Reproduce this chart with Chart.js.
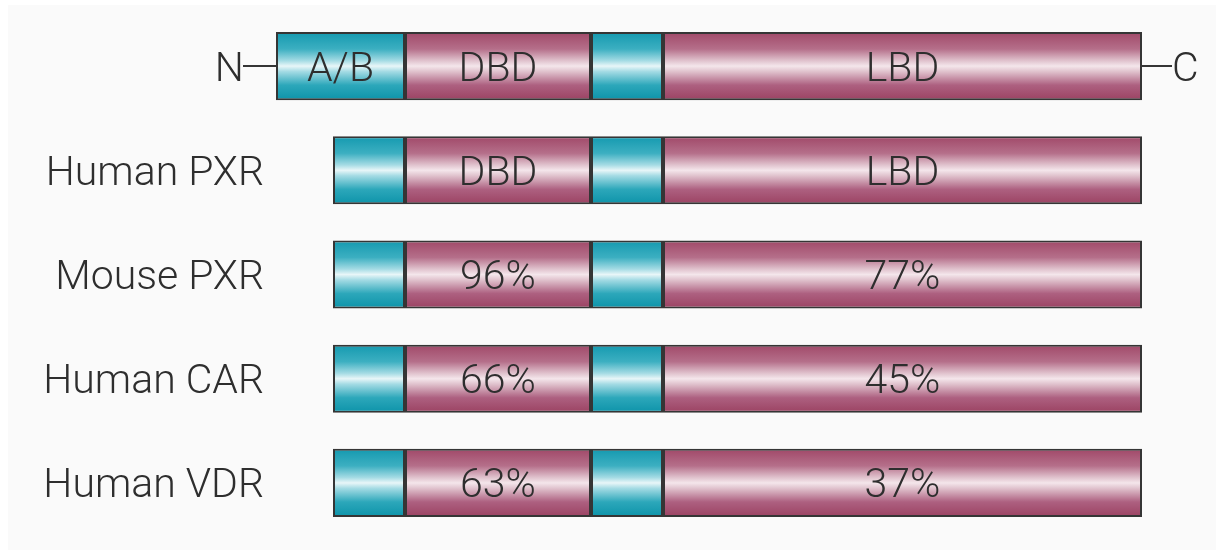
<!DOCTYPE html>
<html>
<head>
<meta charset="utf-8">
<script src="https://cdn.jsdelivr.net/npm/chart.js@4"></script>
<style>
  html, body { margin: 0; padding: 0; background: #ffffff; }
  #wrap { width: 1216px; height: 550px; position: relative; }
</style>
</head>
<body>
<div id="wrap"><canvas id="c"></canvas></div>
<script>
// ---- data (positions along the protein, in drawing units) ----
const rows       = ['', 'Human PXR', 'Mouse PXR', 'Human CAR', 'Human VDR'];
const abStart    = [276, 333, 333, 333, 333];
const dbdStart   = [405, 405, 405, 405, 405];
const hingeStart = [591, 591, 591, 591, 591];
const lbdStart   = [663, 663, 663, 663, 663];
const lbdEnd     = [1142, 1142, 1142, 1142, 1142];
const abLabels   = ['A/B', '', '', '', ''];
const dbdLabels  = ['DBD', 'DBD', '96%', '66%', '63%'];
const lbdLabels  = ['LBD', 'LBD', '77%', '45%', '37%'];
const axisMax    = 1216;

const BAR_FRAC = 0.654;
const FONT_SIZE = 41;
const FONT = '300 ' + FONT_SIZE + 'px Roboto, "Liberation Sans", Arial, sans-serif';
const TEXT_COLOR = '#2e2e2e';

const tealStops = [[0, '#1499af'], [0.25, '#3cafc1'], [0.42, '#a4dbe4'], [0.5, '#e8f6f8'], [0.58, '#a4dbe4'], [0.78, '#2ca7ba'], [1, '#0d93a9']];
const maroonStops = [[0, '#a04868'], [0.25, '#b56f8a'], [0.42, '#e0c2cd'], [0.5, '#f4e6eb'], [0.58, '#e0c2cd'], [0.78, '#ad6080'], [1, '#9b4262']];

function gradient(stops) {
  return (ctx) => {
    const chart = ctx.chart;
    const y = chart.scales.y;
    if (!chart.chartArea || !y || ctx.dataIndex === undefined) return stops[3][1];
    const c = y.getPixelForValue(ctx.dataIndex);
    const h = (y.height / rows.length) * BAR_FRAC;
    const g = chart.ctx.createLinearGradient(0, c - h / 2, 0, c + h / 2);
    stops.forEach(s => g.addColorStop(s[0], s[1]));
    return g;
  };
}

function seg(a, b) { return a.map((v, i) => [v, b[i]]); }

function mkSet(label, data, stops) {
  return {
    label, data,
    backgroundColor: gradient(stops),
    borderColor: '#353535',
    borderWidth: 2,
    borderSkipped: false,
    grouped: false,
    barPercentage: BAR_FRAC,
    categoryPercentage: 1.0
  };
}

const bgPlugin = {
  id: 'bg',
  beforeDraw(chart) {
    const c = chart.ctx;
    c.save();
    c.fillStyle = '#ffffff';
    c.fillRect(0, 0, chart.width, chart.height);
    c.fillStyle = '#fafafa';
    c.fillRect(8, 5, chart.width - 8, chart.height - 5);
    c.restore();
  }
};

const textPlugin = {
  id: 'texts',
  afterDatasetsDraw(chart) {
    const c = chart.ctx;
    const x = chart.scales.x, y = chart.scales.y;
    const capOff = FONT_SIZE * 0.355;
    c.save();
    c.font = FONT;
    c.fillStyle = TEXT_COLOR;
    c.textBaseline = 'alphabetic';
    rows.forEach((name, i) => {
      const cy = y.getPixelForValue(i);
      const base = cy + capOff;
      if (name) {
        c.textAlign = 'right';
        c.fillText(name, 264, base);
      }
      c.textAlign = 'center';
      if (abLabels[i]) {
        c.fillText(abLabels[i], (x.getPixelForValue(abStart[i]) + x.getPixelForValue(dbdStart[i])) / 2, base);
      }
      c.fillText(dbdLabels[i], (x.getPixelForValue(dbdStart[i]) + x.getPixelForValue(hingeStart[i])) / 2, base);
      c.fillText(lbdLabels[i], (x.getPixelForValue(lbdStart[i]) + x.getPixelForValue(lbdEnd[i])) / 2, base);
    });
    // N and C termini on the first row
    const cy0 = y.getPixelForValue(0);
    const xs = x.getPixelForValue(abStart[0]);
    const xe = x.getPixelForValue(lbdEnd[0]);
    c.strokeStyle = '#353535';
    c.lineWidth = 2;
    c.beginPath();
    c.moveTo(xs - 33, cy0); c.lineTo(xs, cy0);
    c.moveTo(xe, cy0); c.lineTo(xe + 30, cy0);
    c.stroke();
    c.textAlign = 'right';
    c.fillText('N', xs - 32, cy0 + capOff);
    c.textAlign = 'left';
    c.fillText('C', xe + 30, cy0 + capOff);
    c.restore();
  }
};

function draw() {
  new Chart(document.getElementById('c'), {
    type: 'bar',
    data: {
      labels: rows,
      datasets: [
        mkSet('A/B', seg(abStart, dbdStart), tealStops),
        mkSet('DBD', seg(dbdStart, hingeStart), maroonStops),
        mkSet('Hinge', seg(hingeStart, lbdStart), tealStops),
        mkSet('LBD', seg(lbdStart, lbdEnd), maroonStops)
      ]
    },
    options: {
      indexAxis: 'y',
      responsive: true,
      maintainAspectRatio: false,
      animation: false,
      layout: { padding: { top: 14, bottom: 15, left: 0, right: 0 } },
      scales: {
        x: { display: false, min: 0, max: axisMax },
        y: { display: false }
      },
      plugins: {
        legend: { display: false },
        tooltip: { enabled: false }
      }
    },
    plugins: [bgPlugin, textPlugin]
  });
}
if (document.fonts && document.fonts.load) {
  document.fonts.load(FONT).then(draw, draw);
} else { draw(); }
</script>
</body>
</html>
